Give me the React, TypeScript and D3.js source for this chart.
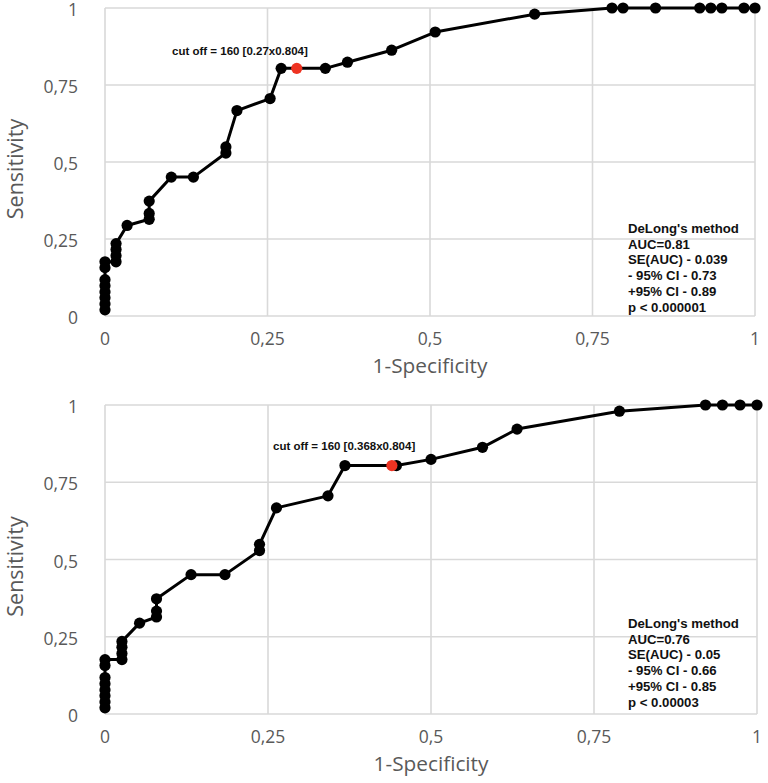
import React from "react";
import * as d3 from "d3";

// Top chart ROC points
const topFpr = [0, 0, 0, 0, 0, 0, 0, 0, 0.017, 0.017, 0.017, 0.017, 0.034, 0.068, 0.068, 0.068, 0.102, 0.136, 0.186, 0.186, 0.203, 0.254, 0.271, 0.339, 0.373, 0.441, 0.508, 0.661, 0.78, 0.797, 0.847, 0.915, 0.932, 0.949, 0.983, 1];
const topTpr = [0.02, 0.039, 0.059, 0.078, 0.098, 0.118, 0.157, 0.176, 0.176, 0.196, 0.216, 0.235, 0.294, 0.314, 0.333, 0.373, 0.451, 0.451, 0.529, 0.549, 0.667, 0.706, 0.804, 0.804, 0.824, 0.863, 0.922, 0.98, 1, 1, 1, 1, 1, 1, 1, 1];
const topCut = [0.295, 0.804];
const topCutLabel = "cut off = 160 [0.27x0.804]";
const topStats = ["DeLong's method", "AUC=0.81", "SE(AUC) - 0.039", "- 95% CI - 0.73", "+95% CI - 0.89", "p < 0.000001"];

// Bottom chart ROC points
const botFpr = [0, 0, 0, 0, 0, 0, 0, 0, 0.026, 0.026, 0.026, 0.026, 0.053, 0.079, 0.079, 0.079, 0.132, 0.184, 0.237, 0.237, 0.263, 0.342, 0.368, 0.447, 0.5, 0.579, 0.632, 0.789, 0.921, 0.947, 0.974, 1];
const botTpr = [0.02, 0.039, 0.059, 0.078, 0.098, 0.118, 0.157, 0.176, 0.176, 0.196, 0.216, 0.235, 0.294, 0.314, 0.333, 0.373, 0.451, 0.451, 0.529, 0.549, 0.667, 0.706, 0.804, 0.804, 0.824, 0.863, 0.922, 0.98, 1, 1, 1, 1];
const botCut = [0.44, 0.804];
const botCutLabel = "cut off = 160 [0.368x0.804]";
const botStats = ["DeLong's method", "AUC=0.76", "SE(AUC) - 0.05", "- 95% CI - 0.66", "+95% CI - 0.85", "p < 0.00003"];

const tickValues = [0, 0.25, 0.5, 0.75, 1];
const tickLabels = ["0", "0,25", "0,5", "0,75", "1"];
const xTitle = "1-Specificity";
const yTitle = "Sensitivity";

const GRID = "#d9d9d9";
const TICK = "#595959";
const TICKFONT = "'Open Sans', sans-serif";
const BOLDFONT = "'Liberation Sans', Arial, sans-serif";

type PanelProps = {
  fpr: number[];
  tpr: number[];
  cut: number[];
  cutLabel: string;
  stats: string[];
  x0: number;
  x1: number;
  yTop: number;
  yBot: number;
  labelPos: [number, number];
  statsPos: [number, number];
};

function Panel(p: PanelProps) {
  const x = d3.scaleLinear().domain([0, 1]).range([p.x0, p.x1]);
  const y = d3.scaleLinear().domain([0, 1]).range([p.yBot, p.yTop]);
  const pts = p.fpr.map((f, i) => [f, p.tpr[i]] as [number, number]);
  const line = d3.line<[number, number]>().x((d) => x(d[0])).y((d) => y(d[1]));
  return (
    <g>
      {tickValues.map((t) => (
        <line key={"gx" + t} x1={x(t)} x2={x(t)} y1={y(0)} y2={y(1)} stroke={GRID} strokeWidth={1.6} />
      ))}
      {tickValues.map((t) => (
        <line key={"gy" + t} x1={x(0)} x2={x(1)} y1={y(t)} y2={y(t)} stroke={GRID} strokeWidth={1.6} />
      ))}
      {tickValues.map((t, i) => (
        <text key={"ty" + t} x={x(0) - 27} y={y(t)} dy="0.46em" textAnchor="end" fill={TICK} fontFamily={TICKFONT} fontSize={17.5}>
          {tickLabels[i]}
        </text>
      ))}
      {tickValues.map((t, i) => (
        <text key={"tx" + t} x={x(t)} y={y(0) + 29} textAnchor="middle" fill={TICK} fontFamily={TICKFONT} fontSize={17.5}>
          {tickLabels[i]}
        </text>
      ))}
      <text x={(x(0) + x(1)) / 2} y={y(0) + 57} textAnchor="middle" fill={TICK} fontFamily={TICKFONT} fontSize={20.8}>
        {xTitle}
      </text>
      <text
        transform={`translate(${23},${(y(0) + y(1)) / 2 + 7}) rotate(-90)`}
        textAnchor="middle"
        fill={TICK}
        fontFamily={TICKFONT}
        fontSize={21.5}
      >
        {yTitle}
      </text>
      <path d={line(pts) || ""} fill="none" stroke="#000" strokeWidth={3} strokeLinejoin="round" />
      {pts.map((d, i) => (
        <circle key={"c" + i} cx={x(d[0])} cy={y(d[1])} r={5.6} fill="#000" />
      ))}
      <circle cx={x(p.cut[0])} cy={y(p.cut[1])} r={5.6} fill="#ee3322" />
      <text x={p.labelPos[0]} y={p.labelPos[1]} fontFamily={BOLDFONT} fontWeight="bold" fontSize={11.5} fill="#111">
        {p.cutLabel}
      </text>
      <text fontFamily={BOLDFONT} fontWeight="bold" fontSize={13.2} fill="#111">
        {p.stats.map((s, i) => (
          <tspan key={"s" + i} x={p.statsPos[0]} y={p.statsPos[1] + i * 15.7}>
            {s}
          </tspan>
        ))}
      </text>
    </g>
  );
}

export default function App() {
  return (
    <svg width={768} height={783} style={{ position: "absolute", left: 0, top: 0, background: "#fff" }}>
      <rect width={768} height={783} fill="#fff" />
      <Panel
        fpr={topFpr}
        tpr={topTpr}
        cut={topCut}
        cutLabel={topCutLabel}
        stats={topStats}
        x0={105}
        x1={755}
        yTop={8}
        yBot={316}
        labelPos={[172, 55]}
        statsPos={[628, 233]}
      />
      <Panel
        fpr={botFpr}
        tpr={botTpr}
        cut={botCut}
        cutLabel={botCutLabel}
        stats={botStats}
        x0={105}
        x1={757}
        yTop={405}
        yBot={714}
        labelPos={[273, 450]}
        statsPos={[628, 628]}
      />
    </svg>
  );
}
